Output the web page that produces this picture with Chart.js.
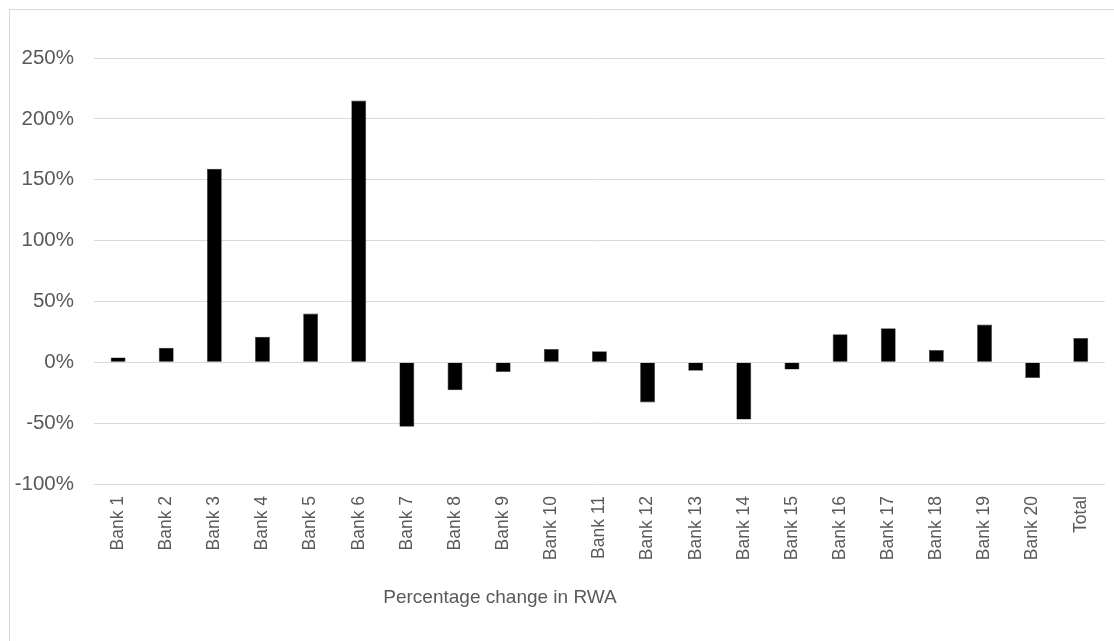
<!DOCTYPE html>
<html>
<head>
<meta charset="utf-8">
<script src="https://cdn.jsdelivr.net/npm/chart.js@4/dist/chart.umd.min.js"></script>
<style>
  html, body { margin: 0; padding: 0; background: #ffffff; }
  #wrap { position: relative; width: 1114px; height: 641px; }
</style>
</head>
<body>
<div id="wrap"><canvas id="chart" width="1114" height="641"></canvas></div>
<script>
// Categories and percentage change in risk-weighted assets per bank
const banks = ['Bank 1', 'Bank 2', 'Bank 3', 'Bank 4', 'Bank 5', 'Bank 6', 'Bank 7',
  'Bank 8', 'Bank 9', 'Bank 10', 'Bank 11', 'Bank 12', 'Bank 13', 'Bank 14',
  'Bank 15', 'Bank 16', 'Bank 17', 'Bank 18', 'Bank 19', 'Bank 20', 'Total'];
const rwaChange = [4, 12, 159, 21, 40, 215, -53, -23, -8, 11, 9, -33, -7, -47,
  -6, 23, 28, 10, 31, -13, 20];
const yTicks = [-100, -50, 0, 50, 100, 150, 200, 250];
const seriesName = 'Percentage change in RWA';

const FONT = '"Liberation Sans", Arial, sans-serif';
const TEXT = '#595959';
const GRID = '#d9d9d9';

// Thin frame around the chart area
const framePlugin = {
  id: 'frame',
  beforeDraw(chart) {
    const ctx = chart.ctx;
    ctx.save();
    ctx.fillStyle = '#ffffff';
    ctx.fillRect(0, 0, chart.width, chart.height);
    ctx.strokeStyle = GRID;
    ctx.lineWidth = 1;
    ctx.strokeRect(9.5, 9.5, chart.width + 20, chart.height + 20);
    ctx.restore();
  }
};

// Series caption below the category labels
const captionPlugin = {
  id: 'caption',
  afterDraw(chart) {
    const ctx = chart.ctx;
    ctx.save();
    ctx.fillStyle = TEXT;
    ctx.font = '19px ' + FONT;
    ctx.textAlign = 'center';
    ctx.textBaseline = 'middle';
    ctx.fillText(chart.data.datasets[0].label, 500, 598);
    ctx.restore();
  }
};

new Chart(document.getElementById('chart'), {
  type: 'bar',
  data: {
    labels: banks,
    datasets: [{
      label: seriesName,
      data: rwaChange,
      backgroundColor: '#000000',
      borderColor: '#3a3a3a',
      borderWidth: 0.6,
      categoryPercentage: 1,
      barPercentage: 0.31
    }]
  },
  options: {
    responsive: false,
    animation: false,
    devicePixelRatio: 1,
    layout: { padding: { left: 0, right: 9, top: 58, bottom: 32 } },
    plugins: {
      legend: { display: false },
      tooltip: { enabled: false }
    },
    scales: {
      x: {
        grid: { display: false, drawTicks: false },
        border: { display: false },
        ticks: {
          color: TEXT,
          font: { family: FONT, size: 17.5 },
          minRotation: 90,
          maxRotation: 90,
          padding: 12,
          autoSkip: false
        },
        afterFit(scale) { scale.height = 125; }
      },
      y: {
        min: -100,
        max: 250,
        afterBuildTicks(scale) { scale.ticks = yTicks.map(v => ({ value: v })); },
        grid: { color: GRID, lineWidth: 1, drawTicks: false },
        border: { display: false },
        ticks: {
          color: TEXT,
          font: { family: FONT, size: 20.5 },
          padding: 20,
          callback: v => v + '%'
        },
        afterFit(scale) { scale.width = 94; }
      }
    }
  },
  plugins: [framePlugin, captionPlugin]
});
</script>
</body>
</html>
